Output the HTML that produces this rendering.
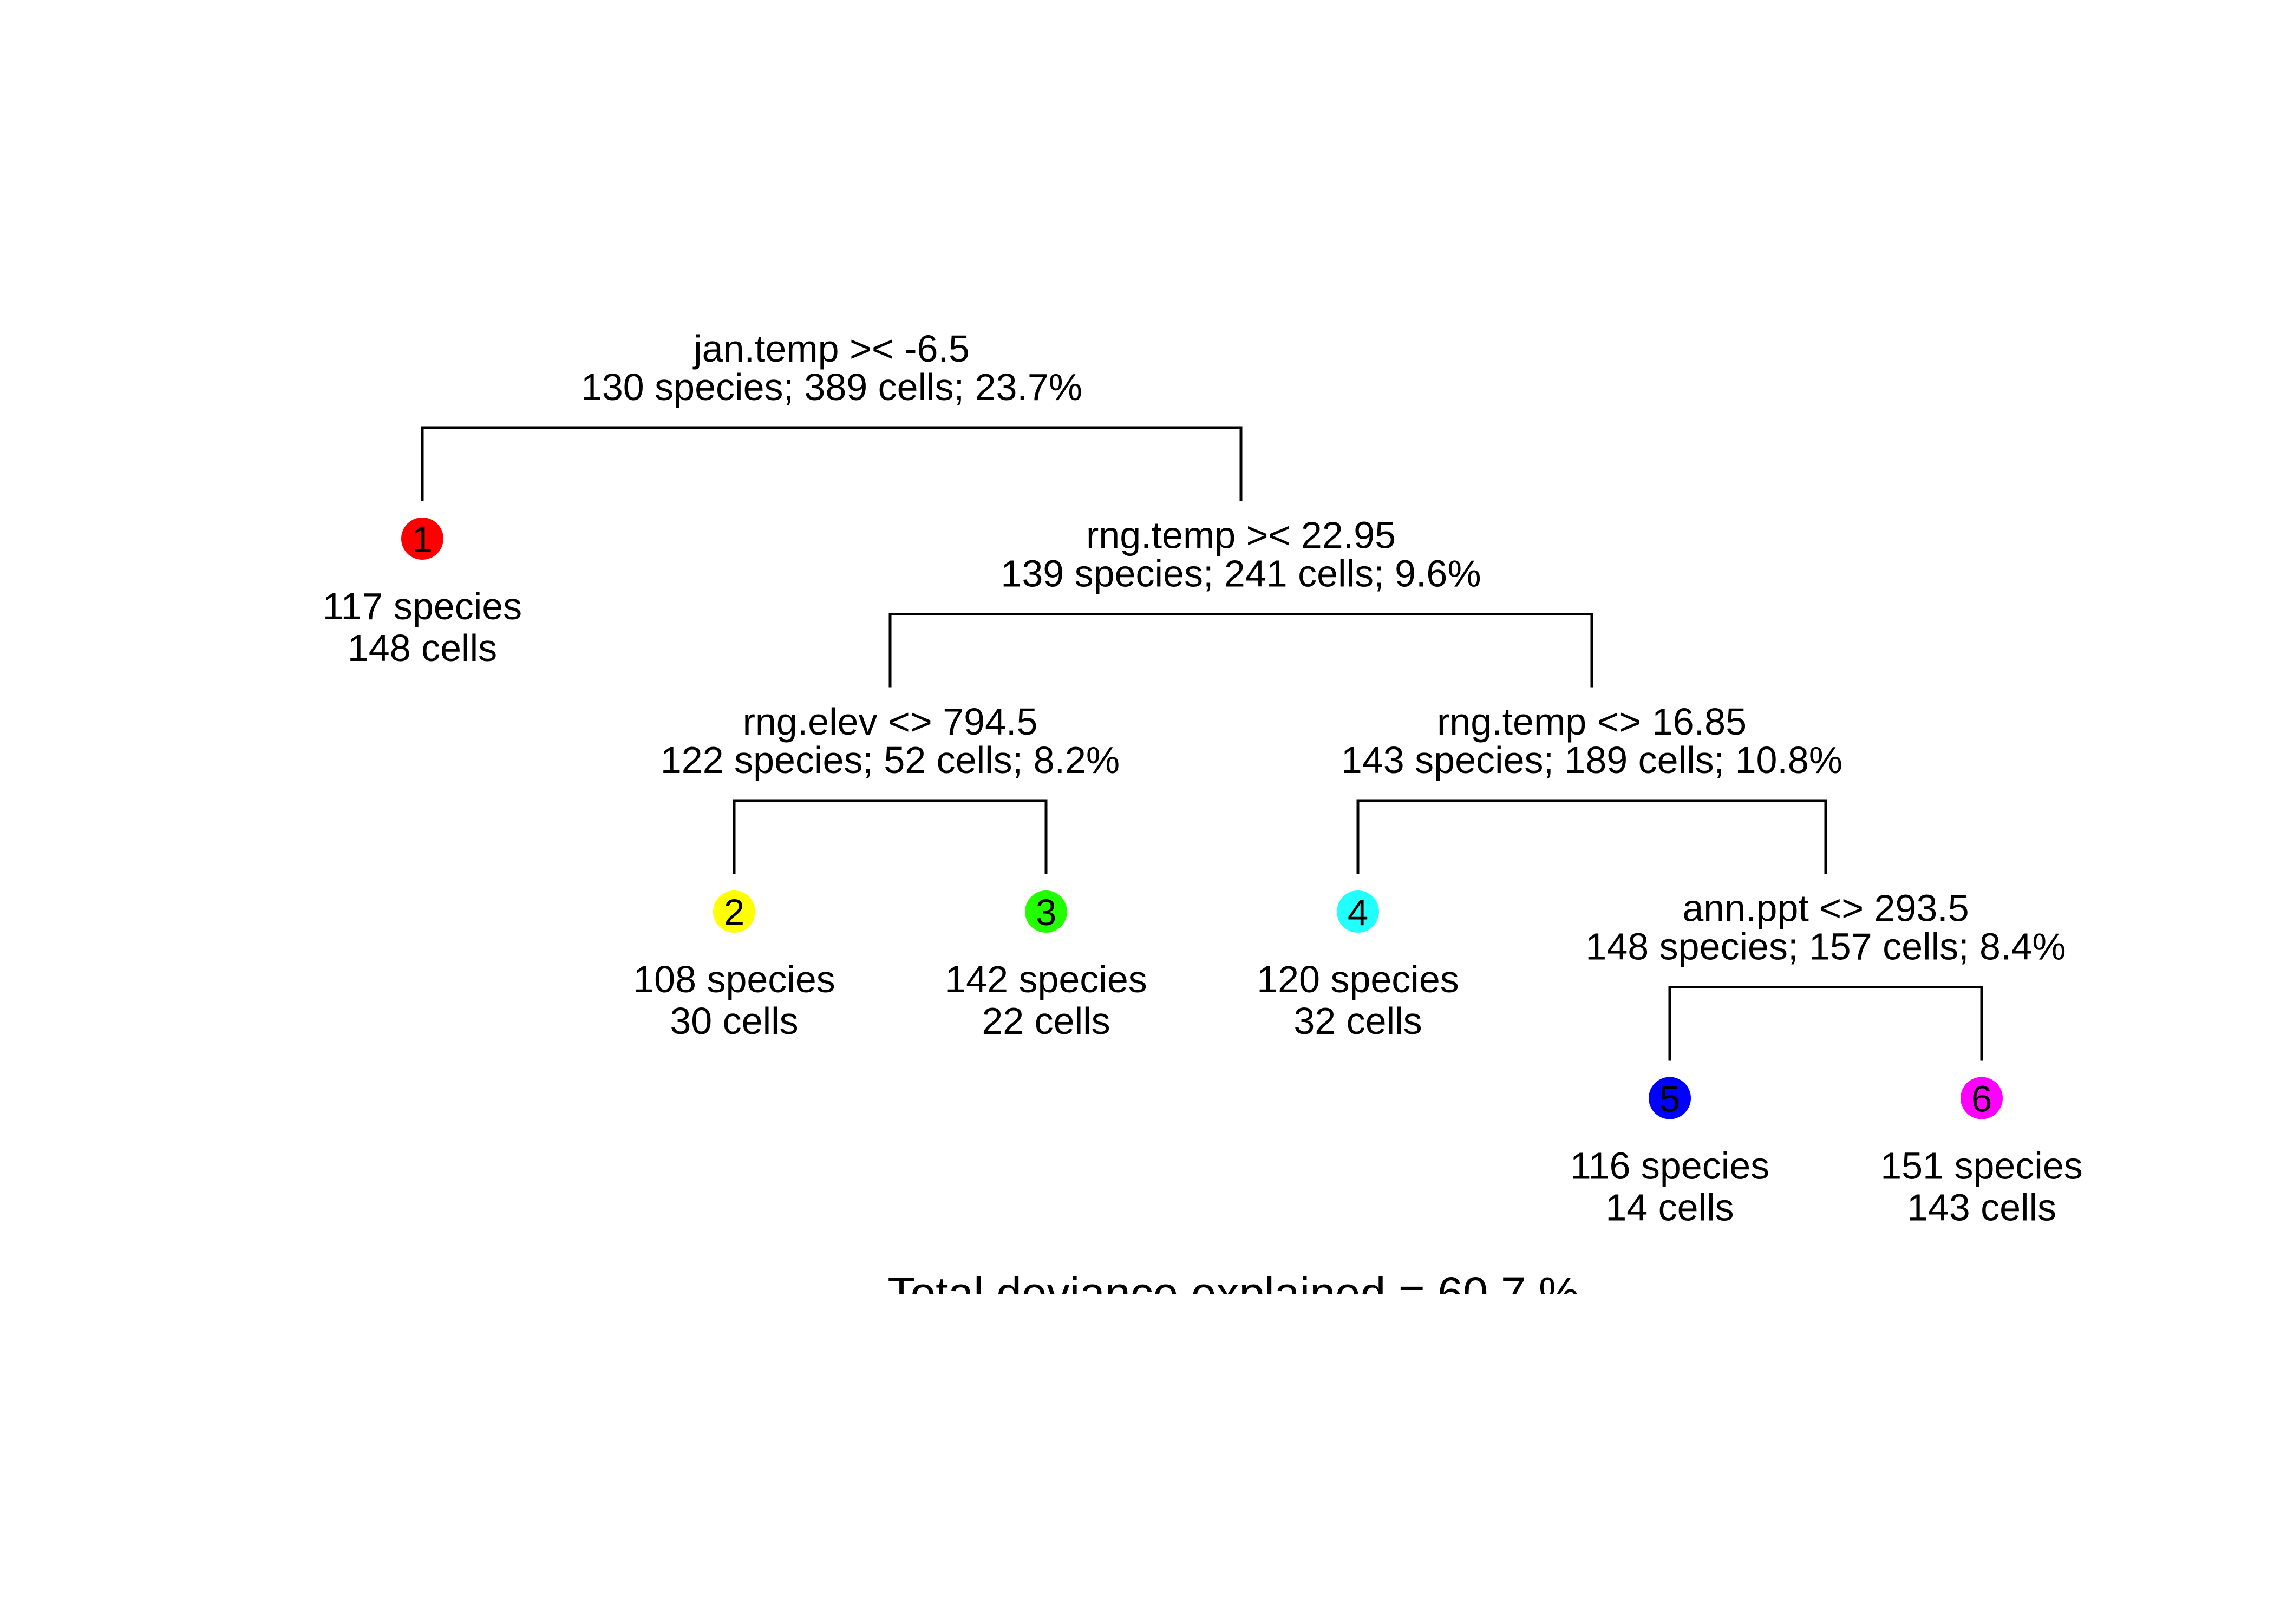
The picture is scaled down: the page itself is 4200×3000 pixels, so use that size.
<!DOCTYPE html>
<html><head><meta charset="utf-8"><style>
html,body{margin:0;padding:0;background:#fff;}
svg{display:block;}
text{font-family:"Liberation Sans",Arial,sans-serif;fill:#000;}
</style></head><body>
<svg id="chart" width="4200" height="3000" viewBox="0 0 4200 3000" xmlns="http://www.w3.org/2000/svg">
<defs><clipPath id="clipBottom"><rect x="0" y="0" width="4200" height="2390"/></clipPath></defs>
<rect x="0" y="0" width="4200" height="3000" fill="#fff"/>
<g id="tree"></g>
<text x="2278" y="2418" font-size="84" text-anchor="middle" clip-path="url(#clipBottom)">Total deviance explained = 60.7 %</text>
</svg>
<script>
// Split nodes data
const splitLabels = ["jan.temp >< -6.5","rng.temp >< 22.95","rng.elev <> 794.5","rng.temp <> 16.85","ann.ppt <> 293.5"];
const splitSpecies = [130,139,122,143,148];
const splitCells = [389,241,52,189,157];
const splitPct = ["23.7%","9.6%","8.2%","10.8%","8.4%"];
const splitLevel = [0,1,2,2,3];
// children: [left, right]; "L#" leaf index, "S#" split index
const splitChildren = [["L0","S1"],["S2","S3"],["L1","L2"],["L3","S4"],["L4","L5"]];
// Leaf data
const leafIds = ["1","2","3","4","5","6"];
const leafSpecies = [117,108,142,120,116,151];
const leafCells = [148,30,22,32,14,143];
const leafColors = ["#ff0000","#ffff00","#22ff00","#22ffff","#0000ff","#ff00ff"];

// layout scales
const leafX = i => 780 + i*576;
const levelY = l => 790 + l*344.5;
const NS="http://www.w3.org/2000/svg";
const g=document.getElementById('tree');
function mk(tag,attrs){const e=document.createElementNS(NS,tag);for(const k in attrs)e.setAttribute(k,attrs[k]);g.appendChild(e);return e;}
function txt(x,y,s,size){const e=mk('text',{x:x,y:y,'font-size':size,'text-anchor':'middle'});e.textContent=s;return e;}

function nodeX(ref){
  const t=ref[0], i=+ref.slice(1);
  if(t==='L') return leafX(i);
  const c=splitChildren[i];
  return (nodeX(c[0])+nodeX(c[1]))/2;
}

splitLabels.forEach((lab,i)=>{
  const H=levelY(splitLevel[i]);
  const cx=nodeX('S'+i);
  const t1=txt(cx,H-122,lab,70);
  
  
  const t2=txt(cx,H-51,splitSpecies[i]+' species; '+splitCells[i]+' cells; '+splitPct[i],70);
  
  
  const xl=nodeX(splitChildren[i][0]), xr=nodeX(splitChildren[i][1]);
  const p=mk('path',{d:`M${xl},${H+136}V${H}H${xr}V${H+136}`,fill:'none',stroke:'#000','stroke-width':5});
  
  
  splitChildren[i].forEach(ref=>{
    if(ref[0]!=='L')return;
    const j=+ref.slice(1);
    const lx=leafX(j);
    const c=mk('ellipse',{cx:lx,cy:H+205,rx:39,ry:39,fill:leafColors[j]});
    
    
    const n=txt(lx,H+230,leafIds[j],69);
    
    
    const a=txt(lx,H+354,leafSpecies[j]+' species',70);
    
    
    const b=txt(lx,H+431,leafCells[j]+' cells',70);
    
    
  });
});
</script>
</body></html>
